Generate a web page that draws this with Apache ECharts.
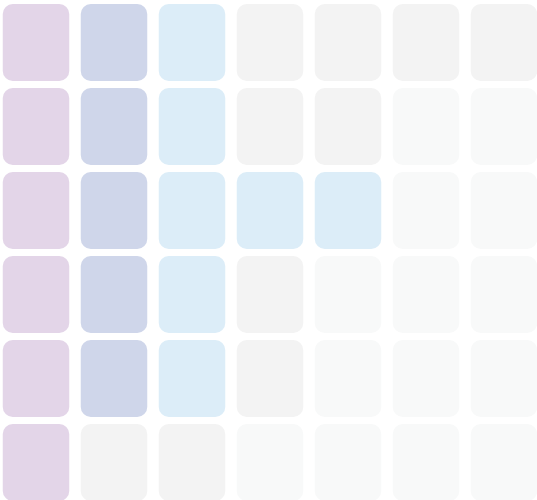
<!DOCTYPE html>
<html>
<head>
<meta charset="utf-8">
<script src="https://cdn.jsdelivr.net/npm/echarts@6/dist/echarts.min.js"></script>
<style>
    html, body { margin: 0; padding: 0; background: #fff; }
    #main { width: 537px; height: 500px; }
</style>
</head>
<body>
<div id="main"></div>
<script>
// 列和行
var cols = ['c1', 'c2', 'c3', 'c4', 'c5', 'c6', 'c7'];
var rows = ['r1', 'r2', 'r3', 'r4', 'r5', 'r6'];
// 每行的等级 (0-4)
var row1 = [4, 3, 2, 1, 1, 1, 1];
var row2 = [4, 3, 2, 1, 1, 0, 0];
var row3 = [4, 3, 2, 2, 2, 0, 0];
var row4 = [4, 3, 2, 1, 0, 0, 0];
var row5 = [4, 3, 2, 1, 0, 0, 0];
var row6 = [4, 1, 1, 0, 0, 0, 0];
var levelColors = ['#f8f9f9', '#f3f3f3', '#dcedf8', '#cfd6ea', '#e3d5e8'];

var allRows = [row1, row2, row3, row4, row5, row6];
var data = [];
allRows.forEach(function (r, ri) {
    r.forEach(function (v, ci) {
        data.push([ci, ri, v]);
    });
});

var myChart = echarts.init(document.getElementById('main'));
var option = {
    animation: false,
    grid: {
        left: -3,
        top: 0.5,
        width: 546,
        height: 504,
        outerBoundsMode: 'none',
        containLabel: false
    },
    xAxis: {
        type: 'category',
        data: cols,
        show: false
    },
    yAxis: {
        type: 'category',
        data: rows,
        inverse: true,
        show: false
    },
    series: [{
        type: 'custom',
        data: data,
        renderItem: function (params, api) {
            var c = api.coord([api.value(0), api.value(1)]);
            var s = api.size([1, 1]);
            var w = s[0] - 11.5;
            var h = s[1] - 7;
            return {
                type: 'rect',
                shape: { x: c[0] - w / 2, y: c[1] - h / 2, width: w, height: h, r: 10 },
                style: { fill: levelColors[api.value(2)] }
            };
        }
    }]
};
myChart.setOption(option);
</script>
</body>
</html>
